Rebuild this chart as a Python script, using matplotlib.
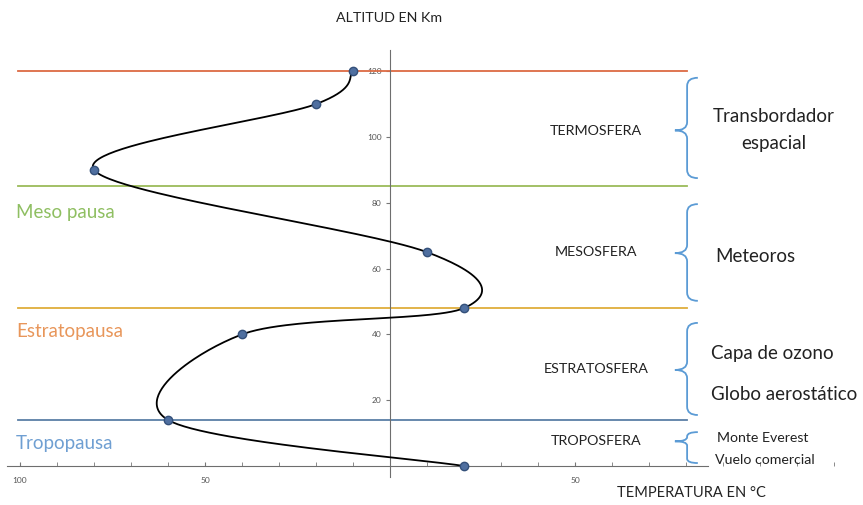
import numpy as np
import matplotlib
matplotlib.use("Agg")
from matplotlib import pyplot as plt
from matplotlib.path import Path
from matplotlib.patches import PathPatch
from matplotlib.ticker import FuncFormatter, MultipleLocator

# temperature profile (deg C vs km)
temp = [20, -60, -40, 20, 10, -80, -20, -10]
alt = [0, 14, 40, 48, 65, 90, 110, 120]

# boundaries between layers
pause_alt = [14, 48, 85, 120]
pause_col = ["#5b7fa6", "#dfae3c", "#9bbb59", "#dc6a43"]
pause_names = ["Tropopausa", "Estratopausa", "Meso pausa"]
pause_txt_col = ["#6f9fd2", "#e8965a", "#8fbf62"]

layers = ["TROPOSFERA", "ESTRATOSFERA", "MESOSFERA", "TERMOSFERA"]
examples = [["Monte Everest", "Vuelo comercial"],
            ["Capa de ozono", "Globo aerostático"],
            ["Meteoros"],
            ["Transbordador", "espacial"]]

xticks = [-100, -50, 50]
yticks = [20, 40, 60, 80, 100, 120]

plt.rcParams['font.family'] = ['Lato', 'DejaVu Sans']

W, H = 863, 505
fig = plt.figure(figsize=(W / 100, H / 100), dpi=100)
ax = fig.add_axes([0, 0, 1, 1])

# pixel layout of the original picture
x0, sx = 390, 3.7
y0, sy = 466, 3.29
ax.set_xlim(-x0 / sx, (W - x0) / sx)
ax.set_ylim((y0 - H) / sy, y0 / sy)


def fx(px):
    return px / W


def fy(py):
    return 1 - py / H


def smooth(xs, ys, n=60):
    # excel-like smoothed scatter line (bezier through the points)
    p = np.column_stack([xs, ys]).astype(float)
    ext = np.vstack([p[0], p, p[-1]])
    out = []
    t = np.linspace(0, 1, n)[:, None]
    for i in range(len(p) - 1):
        a, b = p[i], p[i + 1]
        c1 = a + (ext[i + 2] - ext[i]) / 6
        c2 = b - (ext[i + 3] - ext[i + 1]) / 6
        seg = (1 - t)**3 * a + 3 * (1 - t)**2 * t * c1 + 3 * (1 - t) * t**2 * c2 + t**3 * b
        out.append(seg)
    return np.vstack(out)


# layer boundaries
for a, c in zip(pause_alt, pause_col):
    ax.plot([-100.5, 80.3], [a, a], color=c, lw=1.3, zorder=2)

curve = smooth(temp, alt)
ax.plot(curve[:, 0], curve[:, 1], color="black", lw=1.3, zorder=3)
ax.plot(temp, alt, "o", color="#4f6fa0", markeredgecolor="#34507a",
        markersize=6, zorder=4)

# axes through the origin
for s in ["top", "right"]:
    ax.spines[s].set_visible(False)
ax.spines["left"].set_position(("data", 0))
ax.spines["bottom"].set_position(("data", 0))
ax.spines["left"].set_bounds(-3.4, 126.4)
ax.spines["bottom"].set_bounds(-103.5, 86)
ax.spines["left"].set_color("#6e6e6e")
ax.spines["bottom"].set_color("#6e6e6e")
ax.set_xticks(xticks)
ax.xaxis.set_minor_locator(MultipleLocator(10))
ax.set_yticks(yticks)
ax.xaxis.set_major_formatter(FuncFormatter(lambda v, p: f"{abs(v):g}"))
ax.tick_params(axis="x", which="both", direction="in", length=3, color="#777777",
               labelsize=6, labelcolor="#555555", pad=8)
ax.tick_params(axis="y", direction="out", length=3, color="#777777",
               labelsize=6, labelcolor="#555555", pad=3)

fig.text(fx(389), fy(18), "ALTITUD EN Km", ha="center", va="center",
         fontsize=10.3, color="#222222")
fig.text(fx(691), fy(493), "TEMPERATURA EN °C", ha="center", va="center",
         fontsize=10.5, color="#222222")

# pause names on the left
for name, c, py in zip(pause_names, pause_txt_col, [444, 332, 213]):
    fig.text(fx(16), fy(py), name, ha="left", va="center", fontsize=13.5, color=c)

# layer names
for name, py in zip(layers, [441, 369, 252, 131]):
    fig.text(fx(596), fy(py), name, ha="center", va="center", fontsize=10.3, color="#222222")


def brace(top, bot, tip, r):
    xv, xt, xh = 80.3, 77.0, 83.2
    verts = [(xh, top), (xv, top), (xv, top - r),
             (xv, tip + r), (xv, tip), (xt, tip),
             (xv, tip), (xv, tip - r),
             (xv, bot + r), (xv, bot), (xh, bot)]
    codes = [Path.MOVETO, Path.CURVE3, Path.CURVE3,
             Path.LINETO, Path.CURVE3, Path.CURVE3,
             Path.CURVE3, Path.CURVE3,
             Path.LINETO, Path.CURVE3, Path.CURVE3]
    ax.add_patch(PathPatch(Path(verts, codes), fill=False, ec="#5b9bd5", lw=1.3))


brace(10.3, 0.9, 7.5, 1.3)
brace(43.5, 15.5, 29.2, 2.5)
brace(79.6, 50.2, 64.7, 2.5)
brace(118.0, 87.5, 102.0, 2.5)

# examples on the right
fig.text(fx(717), fy(438), examples[0][0], ha="left", va="center", fontsize=10.2, color="#222222")
fig.text(fx(715), fy(460), examples[0][1], ha="left", va="center", fontsize=10.2, color="#222222")
fig.text(fx(711), fy(353), examples[1][0], ha="left", va="center", fontsize=13.5, color="#222222")
fig.text(fx(711), fy(394), examples[1][1], ha="left", va="center", fontsize=13.5, color="#222222")
fig.text(fx(715), fy(256), examples[2][0], ha="left", va="center", fontsize=13.5, color="#222222")
fig.text(fx(774), fy(117), examples[3][0], ha="center", va="center", fontsize=13.5, color="#222222")
fig.text(fx(774), fy(144), examples[3][1], ha="center", va="center", fontsize=13.5, color="#222222")

fig.savefig("out.png", dpi=100)
